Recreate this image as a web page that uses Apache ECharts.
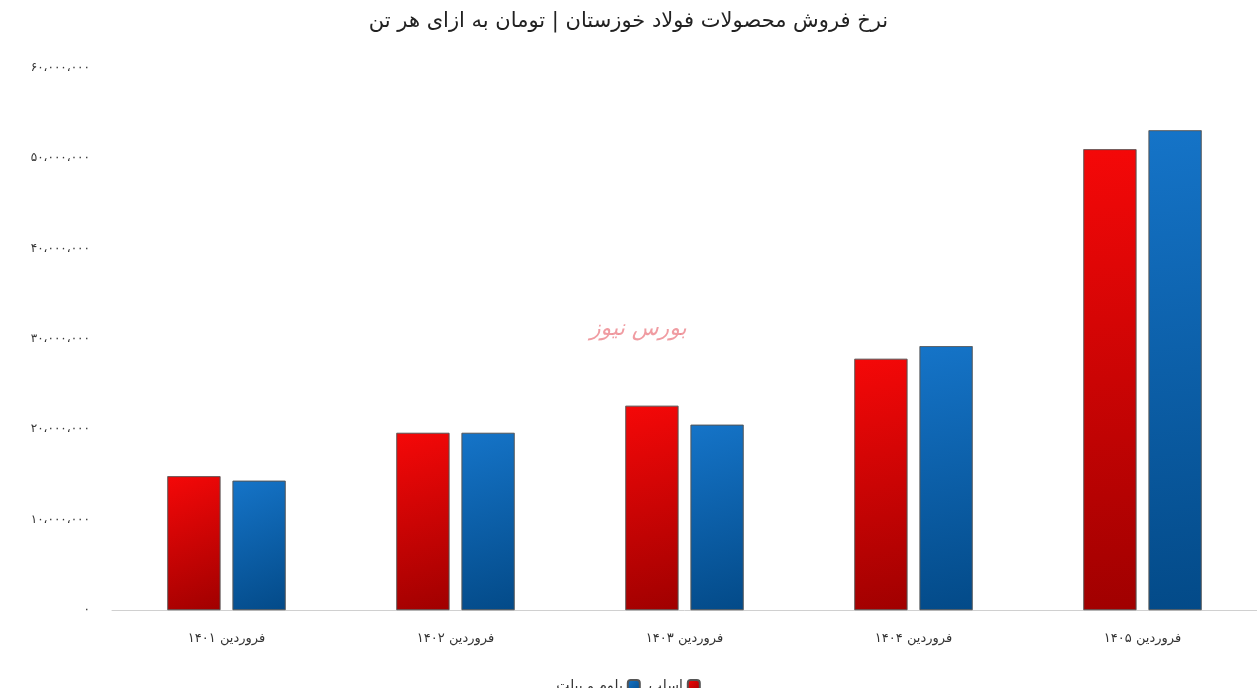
<!DOCTYPE html><html><head><meta charset="utf-8"><script src="https://cdn.jsdelivr.net/npm/echarts@6/dist/echarts.min.js"></script>
<style>html,body{margin:0;background:#fff}#c{width:1257px;height:688px}</style></head><body><div id="c"></div><script>
const categories=['فروردین ۱۴۰۱','فروردین ۱۴۰۲','فروردین ۱۴۰۳','فروردین ۱۴۰۴','فروردین ۱۴۰۵'];
const slab=[14800000,19600000,22600000,27800000,51000000];
const bloom=[14300000,19600000,20500000,29200000,53100000];
const seriesNames=['اسلب','بلوم و بیلت'];
const fa=s=>String(s).replace(/\d/g,d=>'۰۱۲۳۴۵۶۷۸۹'[d]);
const fmt=v=>v===0?'۰':fa(v.toString().replace(/\B(?=(\d{3})+(?!\d))/g,'،'));
const grad=(a,b)=>new echarts.graphic.LinearGradient(0,0,1,1,[{offset:0,color:a},{offset:1,color:b}]);
const font='"DejaVu Sans","Noto Sans",sans-serif';
const ch=echarts.init(document.getElementById('c'));
ch.setOption({
title:{text:'نرخ فروش محصولات فولاد خوزستان | تومان به ازای هر تن',left:'center',top:6,textStyle:{fontSize:21,fontWeight:'normal',color:'#222',fontFamily:font}},
graphic:[{type:'text',left:590,top:318,style:{text:'بورس نیوز',fontSize:22,fontStyle:'italic',fill:'rgba(230,90,100,0.6)',fontFamily:font}}],
legend:{bottom:-10,align:'right',itemWidth:12,itemHeight:12,textStyle:{fontSize:14,color:'#333',fontFamily:font},data:[seriesNames[1],seriesNames[0]]},
grid:{left:112,right:0,top:68,bottom:78},
xAxis:{type:'category',data:categories,axisTick:{show:false},axisLine:{lineStyle:{color:'#d0d0d0'}},axisLabel:{margin:22,fontSize:13,color:'#333',fontFamily:font}},
yAxis:{type:'value',min:0,max:60000000,interval:10000000,splitLine:{show:false},axisLabel:{formatter:fmt,margin:22,fontSize:12,color:'#333',fontFamily:font}},
series:[
{name:seriesNames[0],type:'bar',data:slab,barWidth:53,barGap:'23%',itemStyle:{color:grad('#f50808','#a00000'),borderColor:'#555',borderWidth:0.6}},
{name:seriesNames[1],type:'bar',data:bloom,barWidth:53,itemStyle:{color:grad('#1574c8','#034a88'),borderColor:'#555',borderWidth:0.6}}
]});
</script></body></html>
